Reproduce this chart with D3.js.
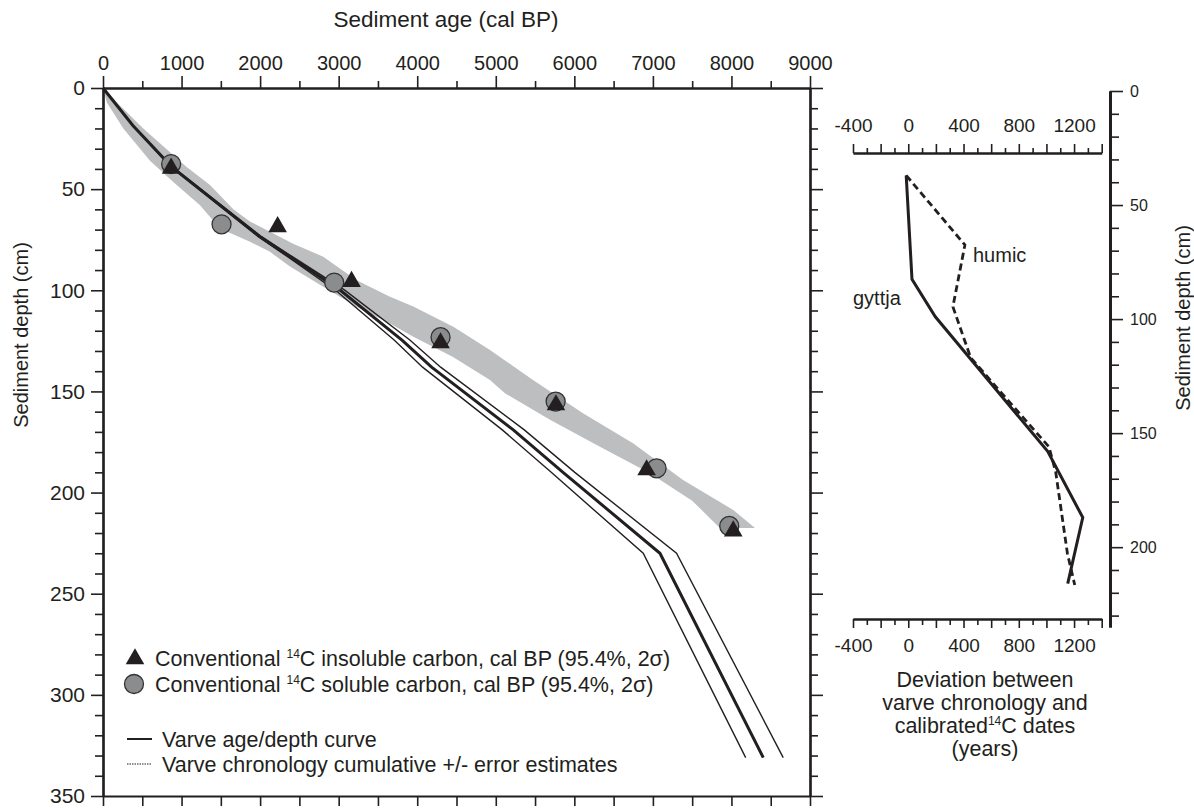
<!DOCTYPE html>
<html>
<head>
<meta charset="utf-8">
<script src="https://cdn.jsdelivr.net/npm/d3@7"></script>
<style>
body { margin: 0; background: #fff; }
text { font-family: "Liberation Sans", Arial, sans-serif; fill: #231f20; }
.axis path, .axis line { stroke: #231f20; }
</style>
</head>
<body>
<svg class="chart" width="1194" height="808"></svg>
<script>
// radiocarbon samples (cal BP vs depth cm)
var insolubleAge = [867, 2223, 3164, 4297, 5766, 6920, 8023],
    insolubleDepth = [39.7, 68.6, 95.7, 126, 156.7, 188.8, 219];
var solubleAge = [867, 1509, 2943, 4297, 5762, 7047, 7972],
    solubleDepth = [37.6, 67.4, 96.2, 123.2, 155, 188, 216.5];

// varve age/depth curve and cumulative error lines
var varveDepth = [0, 18.5, 39, 73.5, 83.4, 99.9, 124.6, 138, 169, 190, 230, 331],
    varveAge   = [0, 380, 874, 1998, 2380, 3017, 3806, 4183, 5223, 5856, 7090, 8405],
    varveYoung = [0, 380, 864, 1978, 2350, 2957, 3706, 4068, 5083, 5706, 6877, 8181],
    varveOld   = [0, 380, 884, 2018, 2410, 3077, 3906, 4298, 5363, 6006, 7301, 8659];

// grey calibrated 14C envelope
var bandOldDepth = [0, 8.6, 20, 39, 48, 60, 66, 77, 83.4, 95, 103, 108, 118, 129.5, 144.3, 160.8, 175.6, 193.8, 208.6, 217.5],
    bandOldAge   = [0, 216, 513, 1065, 1362, 1659, 1871, 2420, 2804, 3228, 3640, 3950, 4460, 4926, 5474, 6110, 6747, 7384, 8023, 8300];
var bandYoungDepth = [0, 7, 20, 36, 46.5, 58, 69.5, 76, 81, 88.3, 98.2, 108.1, 116.4, 123, 132.8, 144.3, 151, 164, 177.3, 190.5, 204, 217.5],
    bandYoungAge   = [0, 47, 259, 598, 895, 1235, 1489, 1871, 2126, 2380, 2804, 3228, 3653, 3950, 4450, 4926, 5120, 5690, 6326, 6963, 7500, 7853];

// deviation panel
var gyttjaDev = [-15, 27, 196, 1009, 1263, 1154],
    gyttjaDepth = [37, 82.6, 99, 158, 187, 216];
var humicDev = [-15, 410, 323, 452, 1018, 1067, 1152, 1205],
    humicDepth = [37, 67.5, 94.6, 117, 156, 167, 202.8, 216.6];

var ageTicks = [0, 1000, 2000, 3000, 4000, 5000, 6000, 7000, 8000, 9000],
    depthTicks = [0, 50, 100, 150, 200, 250, 300, 350],
    devTicks = [-400, 0, 400, 800, 1200],
    depth2Ticks = [0, 50, 100, 150, 200];

var svg = d3.select(".chart");
var ink = "#231f20";

var x = d3.scaleLinear().domain([0, 9000]).range([103, 810]),
    y = d3.scaleLinear().domain([0, 350]).range([88, 796]);

var xd = d3.scaleLinear().domain([-400, 1400]).range([853, 1101.7]),
    yd = d3.scaleLinear().domain([0, 235]).range([91, 627]);

function zip(a, b) { return a.map(function(v, i) { return [v, b[i]]; }); }

// ---------- main panel ----------
var band = zip(bandOldAge, bandOldDepth).concat(zip(bandYoungAge, bandYoungDepth).reverse());
svg.append("path")
    .datum(band)
    .attr("fill", "#bcbec0")
    .attr("d", d3.line().x(function(d) { return x(d[0]); }).y(function(d) { return y(d[1]); }));

var vline = d3.line().x(function(d) { return x(d[0]); }).y(function(d) { return y(d[1]); });

[varveYoung, varveOld].forEach(function(ages) {
    svg.append("path")
        .datum(zip(ages, varveDepth))
        .attr("fill", "none")
        .attr("stroke", ink)
        .attr("stroke-width", 1.4)
        .attr("d", vline);
});
svg.append("path")
    .datum(zip(varveAge, varveDepth))
    .attr("fill", "none")
    .attr("stroke", ink)
    .attr("stroke-width", 3)
    .attr("d", vline);

svg.append("g").selectAll("circle")
    .data(zip(solubleAge, solubleDepth))
    .enter().append("circle")
    .attr("cx", function(d) { return x(d[0]); })
    .attr("cy", function(d) { return y(d[1]); })
    .attr("r", 9.5)
    .attr("fill", "#8b8c8e")
    .attr("stroke", "#333")
    .attr("stroke-width", 1.3);

svg.append("g").selectAll("path")
    .data(zip(insolubleAge, insolubleDepth))
    .enter().append("path")
    .attr("transform", function(d) { return "translate(" + x(d[0]) + "," + y(d[1]) + ")"; })
    .attr("d", d3.symbol(d3.symbolTriangle, 150))
    .attr("fill", ink);

// axes of main panel
function styleAxis(g, w) {
    g.attr("class", "axis");
    g.select(".domain").attr("stroke-width", w);
    g.selectAll(".tick line").attr("stroke-width", 1.6);
}

svg.append("g")
    .attr("transform", "translate(0,88)")
    .call(d3.axisTop(x).tickValues(d3.range(500, 9000, 1000)).tickSize(7).tickSizeOuter(0).tickFormat(""))
    .call(styleAxis, 2);
svg.append("g")
    .attr("transform", "translate(0,88)")
    .call(d3.axisTop(x).tickValues(ageTicks).tickSize(12).tickSizeOuter(0).tickPadding(6).tickFormat(d3.format("d")))
    .call(styleAxis, 2)
    .selectAll("text").attr("font-size", 20);

svg.append("g")
    .attr("transform", "translate(0,796)")
    .call(d3.axisBottom(x).tickValues(d3.range(0, 9001, 500)).tickSize(10).tickSizeOuter(0).tickFormat(""))
    .call(styleAxis, 2.2);

svg.append("g")
    .attr("transform", "translate(103,0)")
    .call(d3.axisLeft(y).tickValues(d3.range(10, 350, 10).filter(function(v) { return v % 50; })).tickSize(8).tickSizeOuter(0).tickFormat(""))
    .call(styleAxis, 2.2);
svg.append("g")
    .attr("transform", "translate(103,0)")
    .call(d3.axisLeft(y).tickValues(depthTicks).tickSize(12).tickSizeOuter(0).tickPadding(6))
    .call(styleAxis, 2.2)
    .selectAll("text").attr("font-size", 21);

svg.append("g")
    .attr("transform", "translate(810,0)")
    .call(d3.axisRight(y).tickValues(d3.range(0, 351, 10).filter(function(v) { return v % 50; })).tickSize(8).tickSizeOuter(0).tickFormat(""))
    .call(styleAxis, 2.2);
svg.append("g")
    .attr("transform", "translate(810,0)")
    .call(d3.axisRight(y).tickValues(depthTicks).tickSize(13).tickSizeOuter(0).tickFormat(""))
    .call(styleAxis, 2.2);

svg.append("text")
    .attr("x", 446).attr("y", 27)
    .attr("text-anchor", "middle")
    .attr("font-size", 22.5)
    .text("Sediment age (cal BP)");

svg.append("text")
    .attr("transform", "translate(28,335) rotate(-90)")
    .attr("text-anchor", "middle")
    .attr("font-size", 20)
    .text("Sediment depth (cm)");

// legend
var legend = svg.append("g");
legend.append("path")
    .attr("transform", "translate(135,659)")
    .attr("d", d3.symbol(d3.symbolTriangle, 150))
    .attr("fill", ink);
legend.append("circle")
    .attr("cx", 134).attr("cy", 684).attr("r", 9.5)
    .attr("fill", "#8b8c8e").attr("stroke", "#333").attr("stroke-width", 1.3);

function c14Label(yPos, kind) {
    var t = legend.append("text").attr("x", 155).attr("y", yPos).attr("font-size", 21.5);
    t.append("tspan").text("Conventional ");
    t.append("tspan").attr("font-size", 12).attr("dy", -8).text("14");
    t.append("tspan").attr("dy", 8).text("C " + kind + " carbon, cal BP (95.4%, 2\u03c3)");
}
c14Label(666, "insoluble");
c14Label(692, "soluble");

legend.append("line")
    .attr("x1", 127).attr("x2", 152).attr("y1", 739).attr("y2", 739)
    .attr("stroke", ink).attr("stroke-width", 2);
legend.append("text").attr("x", 162).attr("y", 747).attr("font-size", 21.5).text("Varve age/depth curve");
legend.append("line")
    .attr("x1", 127).attr("x2", 152).attr("y1", 764).attr("y2", 764)
    .attr("stroke", ink).attr("stroke-width", 1.2).attr("stroke-dasharray", "1.5,1");
legend.append("text").attr("x", 162).attr("y", 772).attr("font-size", 21.5).text("Varve chronology cumulative +/- error estimates");

// ---------- deviation panel ----------
var dline = d3.line().x(function(d) { return xd(d[0]); }).y(function(d) { return yd(d[1]); });
svg.append("path")
    .datum(zip(humicDev, humicDepth))
    .attr("fill", "none").attr("stroke", ink).attr("stroke-width", 2.8)
    .attr("stroke-dasharray", "7,4")
    .attr("d", dline);
svg.append("path")
    .datum(zip(gyttjaDev, gyttjaDepth))
    .attr("fill", "none").attr("stroke", ink).attr("stroke-width", 3)
    .attr("d", dline);

svg.append("text").attr("x", 973).attr("y", 262).attr("font-size", 20).text("humic");
svg.append("text").attr("x", 853).attr("y", 305).attr("font-size", 20).text("gyttja");

var devAll = d3.range(-400, 1401, 100);
var devMinor = devAll.filter(function(v) { return v % 200; }),
    devMajor = devAll.filter(function(v) { return v % 200 === 0; });
var devFmt = function(v) { return devTicks.indexOf(v) >= 0 ? v : ""; };

svg.append("g")
    .attr("transform", "translate(0,153)")
    .call(d3.axisTop(xd).tickValues(devMinor).tickSize(5).tickSizeOuter(0).tickFormat(""))
    .call(styleAxis, 2);
svg.append("g")
    .attr("transform", "translate(0,153)")
    .call(d3.axisTop(xd).tickValues(devMajor).tickSize(9).tickSizeOuter(0).tickPadding(12).tickFormat(devFmt))
    .call(styleAxis, 2)
    .selectAll("text").attr("font-size", 19);

svg.append("g")
    .attr("transform", "translate(0,619)")
    .call(d3.axisBottom(xd).tickValues(devMinor).tickSize(6).tickSizeOuter(0).tickFormat(""))
    .call(styleAxis, 2);
svg.append("g")
    .attr("transform", "translate(0,619)")
    .call(d3.axisBottom(xd).tickValues(devMajor).tickSize(9).tickSizeOuter(0).tickPadding(11).tickFormat(devFmt))
    .call(styleAxis, 2)
    .selectAll("text").attr("font-size", 19);

svg.append("g")
    .attr("transform", "translate(1110,0)")
    .call(d3.axisRight(yd).tickValues(d3.range(10, 235, 10).filter(function(v) { return v % 50; })).tickSize(9).tickSizeOuter(0).tickFormat(""))
    .call(styleAxis, 3);
svg.append("g")
    .attr("transform", "translate(1110,0)")
    .call(d3.axisRight(yd).tickValues(depth2Ticks).tickSize(13).tickSizeOuter(0).tickPadding(7))
    .call(styleAxis, 3)
    .selectAll("text").attr("font-size", 16);

svg.append("text")
    .attr("transform", "translate(1190,318) rotate(-90)")
    .attr("text-anchor", "middle")
    .attr("font-size", 20)
    .text("Sediment depth (cm)");

var devTitle = svg.append("text").attr("text-anchor", "middle").attr("font-size", 21.5);
devTitle.append("tspan").attr("x", 985).attr("y", 687).text("Deviation between");
devTitle.append("tspan").attr("x", 985).attr("y", 710).text("varve chronology and");
var l3 = devTitle.append("tspan").attr("x", 985).attr("y", 733);
l3.append("tspan").text("calibrated");
l3.append("tspan").attr("font-size", 12).attr("dy", -8).text("14");
l3.append("tspan").attr("dy", 8).text("C dates");
devTitle.append("tspan").attr("x", 985).attr("y", 756).text("(years)");
</script>
</body>
</html>
